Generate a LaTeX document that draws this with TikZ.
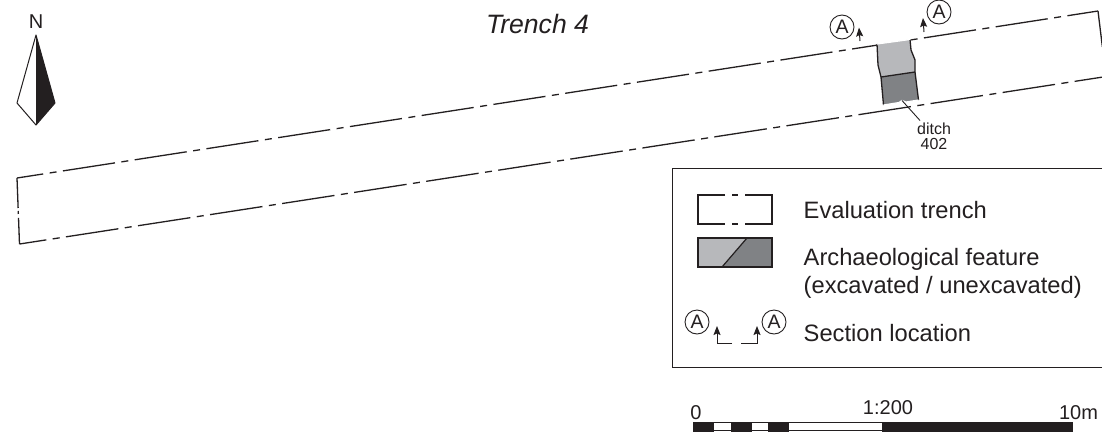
\documentclass[tikz,border=0pt]{standalone}
\usepackage{fontspec}
\setmainfont{Liberation Sans}
\definecolor{inkc}{HTML}{231F20}
\definecolor{lightf}{HTML}{B7B8BB}
\definecolor{darkf}{HTML}{808285}
\usetikzlibrary{arrows.meta}
\tikzset{
  x=1pt,y=-1pt,
  trench/.style={line width=1.3pt,draw=inkc,dash pattern=on 52.6pt off 6.5pt on 7pt off 6.5pt},
  trenchlow/.style={line width=1.3pt,draw=inkc,dash pattern=on 53pt off 6.5pt on 7pt off 6.4pt},
  thinline/.style={line width=1.3pt,draw=inkc},
  keyline/.style={line width=1.2pt,draw=inkc},
  sectionarrow/.style={line width=1pt,draw=inkc,-{Stealth[length=9pt,width=7pt,inset=1.5pt]}},
  sectionmark/.style={circle,draw=inkc,line width=.9pt,minimum size=24pt,inner sep=0pt,font=\fontsize{19.5}{19.5}\selectfont,text=inkc},
  label/.style={font=\fontsize{23.7}{28}\selectfont,text=inkc,anchor=base west,inner sep=0pt},
  scaletext/.style={font=\fontsize{20}{20}\selectfont,text=inkc,inner sep=0pt},
  barblack/.style={fill=inkc,draw=inkc,line width=.5pt},
  barwhite/.style={fill=white,draw=inkc,line width=1pt},
}
\begin{document}
\begin{tikzpicture}
\useasboundingbox (0,0) rectangle (1102,432);
\clip (0,0) rectangle (1102,432);
\fill[white] (0,0) rectangle (1102,432);

% north arrow
\node[scaletext] (north) at (36,22) {N};
\coordinate (napex) at (36,35);
\coordinate (nleft) at (17,103);
\coordinate (nbot) at (36,125);
\coordinate (nright) at (55,103);
\fill[inkc] (napex) -- (nright) -- (nbot) -- cycle;
\draw[line width=1pt,draw=inkc,line join=round] (napex) -- (nleft) -- (nbot) -- (nright) -- cycle;

\node[font=\itshape\fontsize{26.6}{30}\selectfont,text=inkc,inner sep=0pt] (title) at (537.5,24) {Trench 4};

% trench outline
\coordinate (tl) at (17,178);
\coordinate (bl) at (19.5,244);
\coordinate (tr) at (1098,11);
\coordinate (br) at (1103,77);
\draw[trench,dash phase=26.1pt] (tl) -- (tr);
\draw[trenchlow,dash phase=25.9pt] (bl) -- (br);
\draw[line width=1.3pt,draw=inkc,dash pattern=on 30pt off 3pt on 3pt off 4pt on 30pt] (tl) -- (bl);
\draw[trench] (tr) -- ++(4.4,36);

% feature
\coordinate (f1) at (877,44);
\coordinate (f2) at (910,39.5);
\coordinate (f3) at (911,50);
\coordinate (f4) at (915,60);
\coordinate (f5) at (915,72);
\coordinate (f6) at (918.5,100);
\coordinate (f7) at (906,102);
\coordinate (f8) at (902,100.5);
\coordinate (f9) at (899,102.5);
\coordinate (f10) at (883.5,105);
\coordinate (f11) at (881,77);
\coordinate (f12) at (878,65);
\fill[white] (876,41) -- (911,36.5) -- (911,42) -- (877,46.5) -- cycle;
\fill[white] (883,103) -- (919,98) -- (919.5,103) -- (884,108) -- cycle;
\fill[lightf] (f1) -- (f2) -- (f3) -- (f4) -- (f5) -- (f11) -- (f12) -- cycle;
\fill[darkf] (f11) -- (f5) -- (f6) -- (f7) -- (f8) -- (f9) -- (f10) -- cycle;
\draw[thinline] (f1) -- (f12) -- (f11) -- (f10);
\draw[thinline] (f2) -- (f3) -- (f4) -- (f5) -- (f6);
\draw[thinline] (f11) -- (f5);
\draw[line width=1.2pt,white] (f1) -- (f2);
\draw[line width=1.2pt,white] (f10) -- (f9) -- (f8) -- (f7) -- (f6);

% ditch label
\node[font=\fontsize{16}{15.5}\selectfont,text=inkc,align=center,inner sep=0pt] (ditch) at (934,136.5) {ditch\\402};
\coordinate (ditchend) at (920,120.5);
\draw[line width=.9pt,draw=inkc] (f8) -- (ditchend);

% section marks on plan
\node[sectionmark] (a1) at (842,27) {A};
\node[sectionmark] (a2) at (939,12) {A};
\coordinate (a1s) at (860,41);
\coordinate (a1e) at (859,27.5);
\coordinate (a2s) at (924,32);
\coordinate (a2e) at (923,18);
\draw[sectionarrow] (a1s) -- (a1e);
\draw[sectionarrow] (a2s) -- (a2e);

% legend
\node[draw=inkc,line width=1pt,minimum width=440pt,minimum height=199pt,anchor=north west,inner sep=0pt] (legend) at (671.5,168) {};

\draw[keyline] (725,195) -- (698,195) -- (698,224) -- (725,224);
\draw[keyline] (745,195) -- (772,195) -- (772,224) -- (745,224);
\draw[keyline] (732,195) -- (738,195);
\draw[keyline] (732,224) -- (738,224);
\node[label] (l1) at (803.5,218) {Evaluation trench};

\fill[lightf] (698,238) rectangle (772,267);
\fill[darkf] (722,267) -- (747,238) -- (772,238) -- (772,267) -- cycle;
\draw[keyline] (698,238) rectangle (772,267);
\draw[keyline] (722,267) -- (747,238);
\node[label] (l2) at (803.5,265) {Archaeological feature};
\node[label] (l3) at (803.5,293) {(excavated / unexcavated)};

\node[sectionmark] (a3) at (697,322) {A};
\node[sectionmark] (a4) at (774,322) {A};
\coordinate (s1) at (732,343);
\coordinate (s2) at (717,343);
\coordinate (s3) at (717,326);
\coordinate (s4) at (741,343);
\coordinate (s5) at (757,343);
\coordinate (s6) at (757,326);
\draw[sectionarrow] (s1) -- (s2) -- (s3);
\draw[sectionarrow] (s4) -- (s5) -- (s6);
\node[label] (l4) at (803.5,341) {Section location};

% scale bar
\node[scaletext] (s0) at (696,412.5) {0};
\node[scaletext] (sr) at (888,407.5) {1:200};
\node[scaletext] (s10) at (1078.5,412.5) {10m};
\draw[barwhite] (693,422.5) rectangle (882,430.5);
\fill[barblack] (693,422) rectangle (713,431);
\fill[barblack] (731,422) rectangle (751,431);
\fill[barblack] (768,422) rectangle (788,431);
\fill[barblack] (882,422) rectangle (1072,431);
\end{tikzpicture}
\end{document}
